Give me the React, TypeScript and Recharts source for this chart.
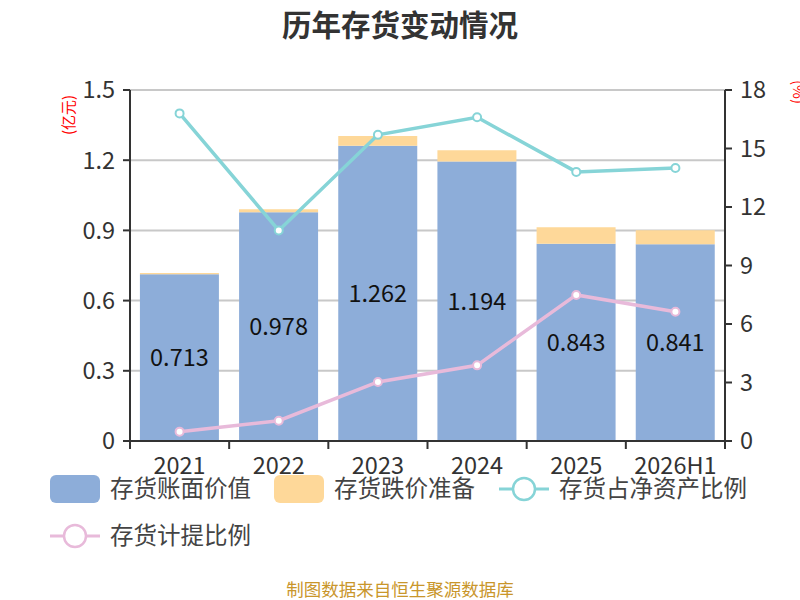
import React from 'react';
import {
  ComposedChart,
  Bar,
  Line,
  XAxis,
  YAxis,
  CartesianGrid,
  LabelList,
} from 'recharts';

const years = ['2021', '2022', '2023', '2024', '2025', '2026H1'];
const bookValue = [0.713, 0.978, 1.262, 1.194, 0.843, 0.841];
const impairment = [0.005, 0.012, 0.041, 0.048, 0.07, 0.06];
const shareOfNetAssets = [16.8, 10.8, 15.7, 16.6, 13.8, 14.0];
const provisionRatio = [0.48, 1.04, 3.03, 3.88, 7.49, 6.63];
const leftTicks = [0, 0.3, 0.6, 0.9, 1.2, 1.5];
const rightTicks = [0, 3, 6, 9, 12, 15, 18];

const BLUE = '#8dadd9';
const YELLOW = '#fed899';
const CYAN = '#86d4d7';
const PINK = '#e8bada';
const FONT = '"Noto Sans CJK SC", "Noto Sans", sans-serif';

const chartData = years.map((year, i) => ({
  year,
  bookValue: bookValue[i],
  impairment: impairment[i],
  shareOfNetAssets: shareOfNetAssets[i],
  provisionRatio: provisionRatio[i],
}));

// plot spans x 130..725, so each category band is ~99px wide
const BAND = (725 - 130) / years.length;

function YearTick(props: any) {
  const { x, y, payload, index } = props;
  const half = BAND / 2;
  return (
    <g>
      <line x1={x - half} y1={y - 8} x2={x - half} y2={y} stroke="#333" strokeWidth={2} />
      {index === years.length - 1 && (
        <line x1={x + half} y1={y - 8} x2={x + half} y2={y} stroke="#333" strokeWidth={2} />
      )}
      <text x={x} y={y + 25} textAnchor="middle" fill="#333" fontSize={23.5} fontFamily={FONT}>
        {payload.value}
      </text>
    </g>
  );
}

function LegendBox({ color, label, x, y }: { color: string; label: string; x: number; y: number }) {
  return (
    <g>
      <rect x={x} y={y - 14} width={50} height={28} rx={6} fill={color} />
      <text x={x + 60} y={y + 8} fill="#444" fontSize={23.5} fontFamily={FONT}>{label}</text>
    </g>
  );
}

function LegendLine({ color, label, x, y }: { color: string; label: string; x: number; y: number }) {
  return (
    <g>
      <line x1={x} y1={y} x2={x + 50} y2={y} stroke={color} strokeWidth={3} />
      <circle cx={x + 25} cy={y} r={11} fill="#fff" stroke={color} strokeWidth={2.5} />
      <text x={x + 60} y={y + 8} fill="#444" fontSize={23.5} fontFamily={FONT}>{label}</text>
    </g>
  );
}

export default function App() {
  return (
    <div style={{ position: 'absolute', left: 0, top: 0, width: 800, height: 600, background: '#fff', fontFamily: FONT }}>
      <ComposedChart
        width={800}
        height={600}
        data={chartData}
        margin={{ top: 90, right: 15, bottom: 129, left: 70 }}
        barCategoryGap="10%"
      >
        <CartesianGrid vertical={false} stroke="#c8c8c8" strokeWidth={2} yAxisId="left" />
        <XAxis
          dataKey="year"
          height={30}
          axisLine={{ stroke: '#333', strokeWidth: 2 }}
          tickLine={false}
          tick={<YearTick />}
          interval={0}
        />
        <YAxis
          yAxisId="left"
          width={60}
          domain={[0, 1.5]}
          ticks={leftTicks}
          axisLine={{ stroke: '#333', strokeWidth: 2 }}
          tickLine={{ stroke: '#333', strokeWidth: 2 }}
          tickSize={7}
          tickMargin={8}
          tick={{ fill: '#333', fontSize: 23.5, fontFamily: FONT }}
        />
        <YAxis
          yAxisId="right"
          orientation="right"
          width={60}
          domain={[0, 18]}
          ticks={rightTicks}
          axisLine={{ stroke: '#333', strokeWidth: 2 }}
          tickLine={{ stroke: '#333', strokeWidth: 2 }}
          tickSize={7}
          tickMargin={8}
          tick={{ fill: '#333', fontSize: 23.5, fontFamily: FONT }}
        />
        <Bar yAxisId="left" dataKey="bookValue" stackId="a" fill={BLUE} isAnimationActive={false}>
          <LabelList dataKey="bookValue" position="center" fill="#111" fontSize={23.5} fontFamily={FONT} />
        </Bar>
        <Bar yAxisId="left" dataKey="impairment" stackId="a" fill={YELLOW} isAnimationActive={false} />
        <Line
          yAxisId="right"
          dataKey="shareOfNetAssets"
          stroke={CYAN}
          strokeWidth={3.5}
          dot={{ r: 4, fill: '#fff', stroke: CYAN, strokeWidth: 2 }}
          isAnimationActive={false}
        />
        <Line
          yAxisId="right"
          dataKey="provisionRatio"
          stroke={PINK}
          strokeWidth={3.5}
          dot={{ r: 4, fill: '#fff', stroke: PINK, strokeWidth: 2 }}
          isAnimationActive={false}
        />
        <text x={400} y={36} textAnchor="middle" fontSize={29.5} fontWeight="bold" fill="#333" fontFamily={FONT}>
          历年存货变动情况
        </text>
        <text
          x={74}
          y={115}
          textAnchor="middle"
          fontSize={15}
          fill="#ff0000"
          fontFamily={FONT}
          transform="rotate(-90 74 115)"
        >
          (亿元)
        </text>
        <text
          x={793}
          y={92}
          textAnchor="middle"
          fontSize={15}
          fill="#ff0000"
          fontFamily={FONT}
          transform="rotate(90 793 92)"
        >
          (%)
        </text>
        <LegendBox color={BLUE} label="存货账面价值" x={50} y={489} />
        <LegendBox color={YELLOW} label="存货跌价准备" x={274} y={489} />
        <LegendLine color={CYAN} label="存货占净资产比例" x={499} y={489} />
        <LegendLine color={PINK} label="存货计提比例" x={50} y={536} />
        <text x={400} y={596} textAnchor="middle" fontSize={17.5} fill="#c9962b" fontFamily={FONT}>
          制图数据来自恒生聚源数据库
        </text>
      </ComposedChart>
    </div>
  );
}
